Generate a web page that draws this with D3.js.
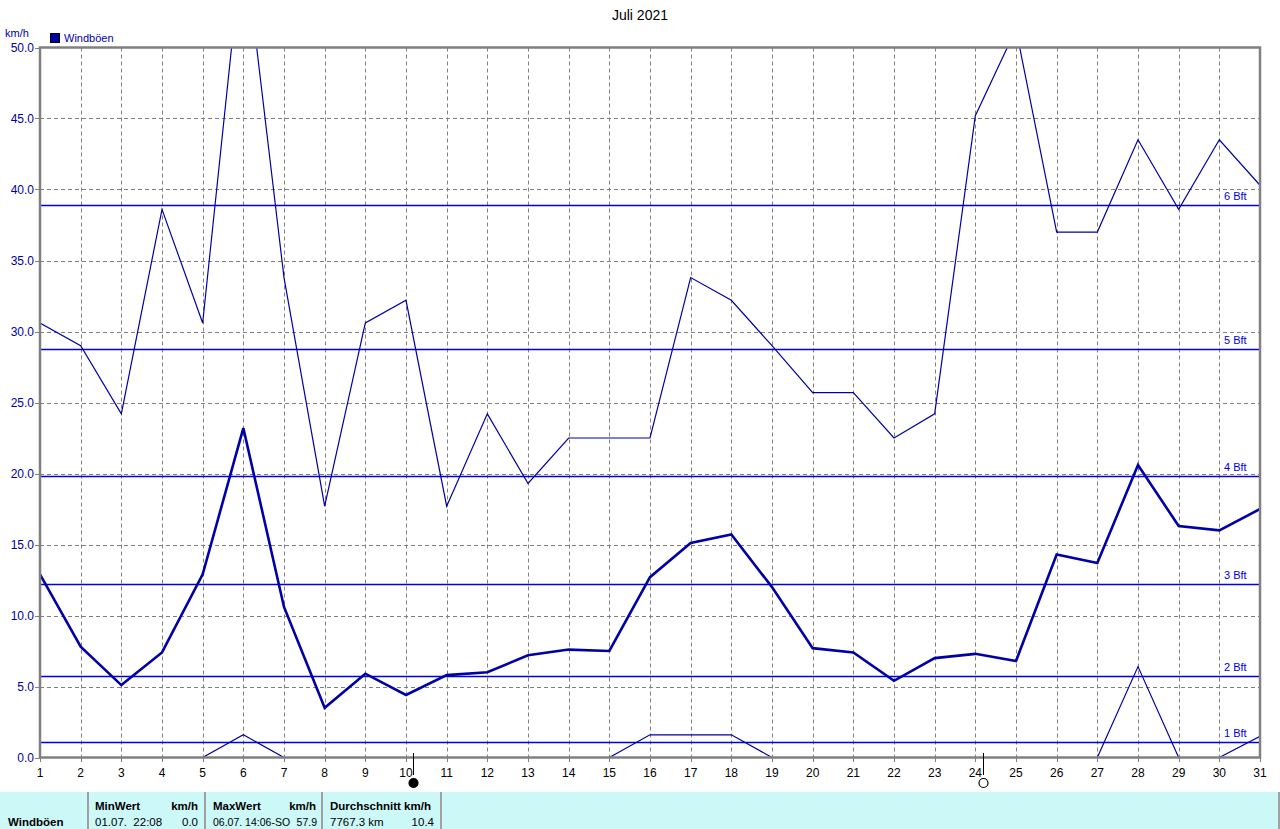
<!DOCTYPE html>
<html><head><meta charset="utf-8">
<script src="https://cdn.jsdelivr.net/npm/d3@7"></script>
<style>
html,body{margin:0;padding:0;background:#fff;overflow:hidden;}
svg{display:block;font-family:"Liberation Sans",Arial,sans-serif;}
</style></head>
<body>
<script>
const days = d3.range(1, 32);
const gustMax = [30.6,29.0,24.2,38.6,30.6,57.9,33.8,17.7,30.6,32.2,17.7,24.2,19.3,22.5,22.5,22.5,33.8,32.2,29.0,25.7,25.7,22.5,24.2,45.2,51.3,37.0,37.0,43.5,38.6,43.5,40.3];
const gustMean = [12.9,7.8,5.1,7.4,12.9,23.2,10.6,3.5,5.9,4.4,5.8,6.0,7.2,7.6,7.5,12.7,15.1,15.7,12.0,7.7,7.4,5.4,7.0,7.3,6.8,14.3,13.7,20.6,16.3,16.0,17.5];
const gustMin = [0,0,0,0,0,1.6,0,0,0,0,0,0,0,0,0,1.6,1.6,1.6,0,0,0,0,0,0,0,0,0,6.4,0,0,1.5];
const bftLabels = ["1 Bft","2 Bft","3 Bft","4 Bft","5 Bft","6 Bft"];
const bftValues = [1.08,5.76,12.24,19.8,28.8,38.88];
const yTicks = [0,5,10,15,20,25,30,35,40,45,50];
const moonPhases = [{day:10.17, type:"new"},{day:24.2, type:"full"}];
const title = "Juli 2021";
const unit = "km/h";
const legendLabel = "Windböen";
const tableHeader = ["MinWert","km/h","MaxWert","km/h","Durchschnitt km/h"];
const tableRow = ["Windböen","01.07.  22:08","0.0","06.07.  14:06-SO","57.9","7767.3 km","10.4"];

const W = 1280, H = 829;
const svg = d3.select("body").append("svg").attr("width", W).attr("height", H);
const x = d3.scaleLinear().domain([1,31]).range([40,1260]);
const y = d3.scaleLinear().domain([0,50]).range([757.5,47.5]);
const lineColor = "#0000a8", bftColor = "#0000e0", labelBlue = "#0000a8", grey = "#808080";

svg.append("defs").append("clipPath").attr("id","plot")
  .append("rect").attr("x",40).attr("y",47.5).attr("width",1220).attr("height",710);

// title
svg.append("text").attr("x",640).attr("y",20).attr("text-anchor","middle")
  .attr("font-size",14).attr("fill","#000").text(title);
// unit
svg.append("text").attr("x",5).attr("y",37).attr("font-size",11).attr("fill",labelBlue).text(unit);
// legend
svg.append("rect").attr("x",50.5).attr("y",33.5).attr("width",9).attr("height",9)
  .attr("fill",lineColor).attr("stroke","#000").attr("stroke-width",1);
svg.append("text").attr("x",64).attr("y",42).attr("font-size",11).attr("fill",labelBlue).text(legendLabel);

const g = svg.append("g");
// grid
g.selectAll(".hg").data(yTicks.filter(v=>v>0&&v<50)).join("line")
  .attr("x1",40).attr("x2",1260).attr("y1",d=>Math.round(y(d))+0.5).attr("y2",d=>Math.round(y(d))+0.5)
  .attr("stroke",grey).attr("stroke-dasharray","4,3");
g.selectAll(".vg").data(days.slice(1,30)).join("line")
  .attr("y1",47.5).attr("y2",757.5).attr("x1",d=>Math.round(x(d))+0.5).attr("x2",d=>Math.round(x(d))+0.5)
  .attr("stroke",grey).attr("stroke-dasharray","4,3");

// Bft lines
g.selectAll(".bft").data(bftValues).join("line")
  .attr("x1",40).attr("x2",1260).attr("y1",d=>Math.round(y(d))+0.5).attr("y2",d=>Math.round(y(d))+0.5)
  .attr("stroke",bftColor).attr("stroke-width",1.3);
g.selectAll(".bftl").data(bftValues).join("text")
  .attr("x",1224).attr("y",d=>y(d)-5).attr("font-size",11).attr("fill",bftColor)
  .text((d,i)=>bftLabels[i]);

// data lines
const mk = arr => d3.line().x((d,i)=>x(days[i])).y(d=>y(d))(arr);
const lines = svg.append("g").attr("clip-path","url(#plot)");
lines.append("path").attr("d",mk(gustMin)).attr("fill","none").attr("stroke",lineColor).attr("stroke-width",1.2);
lines.append("path").attr("d",mk(gustMax)).attr("fill","none").attr("stroke",lineColor).attr("stroke-width",1.2);
lines.append("path").attr("d",mk(gustMean)).attr("fill","none").attr("stroke",lineColor).attr("stroke-width",2.6);

// frame
svg.append("rect").attr("x",40).attr("y",47.5).attr("width",1220).attr("height",710)
  .attr("fill","none").attr("stroke",grey).attr("stroke-width",2.5);

// y axis labels & ticks
svg.selectAll(".yl").data(yTicks).join("text")
  .attr("x",34).attr("y",d=>y(d)+4).attr("text-anchor","end")
  .attr("font-size",12).attr("fill",labelBlue).text(d=>d.toFixed(1));
svg.selectAll(".yt").data(yTicks).join("line")
  .attr("x1",35).attr("x2",40).attr("y1",d=>Math.round(y(d))+0.5).attr("y2",d=>Math.round(y(d))+0.5)
  .attr("stroke",grey);
// x ticks & labels
svg.selectAll(".xt").data(days).join("line")
  .attr("x1",d=>Math.round(x(d))+0.5).attr("x2",d=>Math.round(x(d))+0.5).attr("y1",757).attr("y2",762)
  .attr("stroke",grey);
svg.selectAll(".xl").data(days).join("text")
  .attr("x",d=>x(d)).attr("y",777).attr("text-anchor","middle")
  .attr("font-size",12).attr("fill","#000").text(d=>d);

// moon phases
moonPhases.forEach(m=>{
  const mx = Math.round(x(m.day))+0.5;
  svg.append("line").attr("x1",mx).attr("x2",mx).attr("y1",753).attr("y2",775).attr("stroke","#000");
  svg.append("circle").attr("cx",mx).attr("cy",783).attr("r",4.5)
    .attr("fill",m.type==="new"?"#000":"#fff").attr("stroke","#000").attr("stroke-width",1.2);
});

// table
svg.append("rect").attr("x",0).attr("y",792).attr("width",1280).attr("height",37).attr("fill","#ccf8f8");
[88,205,322,441,1279].forEach(sx=>{
  svg.append("line").attr("x1",sx).attr("x2",sx).attr("y1",792).attr("y2",829).attr("stroke","#a0a0a0").attr("stroke-width",2);
});
const tb = svg.append("g").attr("font-size",11.5).attr("fill","#000");
tb.append("text").attr("x",95).attr("y",810).attr("font-weight","bold").text(tableHeader[0]);
tb.append("text").attr("x",198).attr("y",810).attr("text-anchor","end").attr("font-weight","bold").text(tableHeader[1]);
tb.append("text").attr("x",213).attr("y",810).attr("font-weight","bold").text(tableHeader[2]);
tb.append("text").attr("x",316).attr("y",810).attr("text-anchor","end").attr("font-weight","bold").text(tableHeader[3]);
tb.append("text").attr("x",330).attr("y",810).attr("font-weight","bold").text(tableHeader[4]);
tb.append("text").attr("x",8).attr("y",826).attr("font-weight","bold").text(tableRow[0]);
tb.append("text").attr("x",95).attr("y",826).style("white-space","pre").text(tableRow[1]);
tb.append("text").attr("x",198).attr("y",826).attr("text-anchor","end").text(tableRow[2]);
tb.append("text").attr("x",213).attr("y",826).attr("font-size",10.5).text(tableRow[3].replace("  ", " "));
tb.append("text").attr("x",317).attr("y",826).attr("text-anchor","end").attr("font-size",10.5).text(tableRow[4]);
tb.append("text").attr("x",330).attr("y",826).text(tableRow[5]);
tb.append("text").attr("x",434).attr("y",826).attr("text-anchor","end").text(tableRow[6]);
</script>
</body></html>
